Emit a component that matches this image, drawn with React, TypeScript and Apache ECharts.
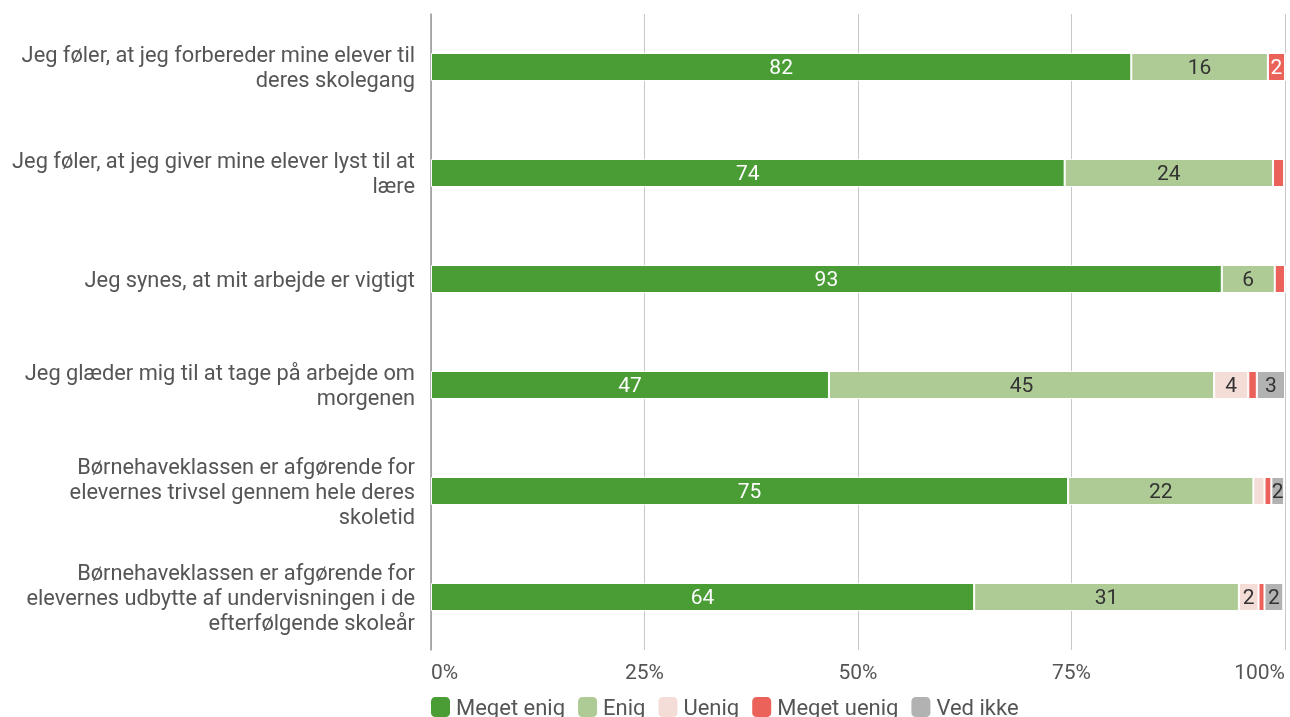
import React, { useEffect, useRef } from "react";
import * as echarts from "echarts";

const categories = [
  "Jeg føler, at jeg forbereder mine elever til\nderes skolegang",
  "Jeg føler, at jeg giver mine elever lyst til at\nlære",
  "Jeg synes, at mit arbejde er vigtigt",
  "Jeg glæder mig til at tage på arbejde om\nmorgenen",
  "Børnehaveklassen er afgørende for\nelevernes trivsel gennem hele deres\nskoletid",
  "Børnehaveklassen er afgørende for\nelevernes udbytte af undervisningen i de\nefterfølgende skoleår",
];

const megetEnig = [82, 74.2, 92.6, 46.6, 74.6, 63.6];
const enig = [16, 24.4, 6.2, 45.1, 21.7, 31];
const uenig = [0, 0, 0, 4, 1.3, 2.3];
const megetUenig = [2, 1.3, 1.2, 1, 0.8, 0.7];
const vedIkke = [0, 0, 0, 3.3, 1.5, 2.2];

const tickLabels = ["0%", "25%", "50%", "75%", "100%"];

const seriesDefs = [
  { name: "Meget enig", data: megetEnig, color: "#4a9d35", labelColor: "#ffffff" },
  { name: "Enig", data: enig, color: "#afcb95", labelColor: "#333333" },
  { name: "Uenig", data: uenig, color: "#f5ddd7", labelColor: "#333333" },
  { name: "Meget uenig", data: megetUenig, color: "#eb625a", labelColor: "#ffffff" },
  { name: "Ved ikke", data: vedIkke, color: "#b2b2b2", labelColor: "#333333" },
];

export default function App() {
  const ref = useRef<HTMLDivElement>(null);
  useEffect(() => {
    if (!ref.current) return;
    document.body.style.margin = "0";
    document.body.style.overflow = "hidden";
    const chart = echarts.init(ref.current, null, { renderer: "svg", width: 1290, height: 717 });
    chart.setOption({
      animation: false,
      textStyle: { fontFamily: "Roboto" },
      grid: { left: 431, right: 5, top: 14, bottom: 67, containLabel: false, outerBoundsMode: "none" },
      legend: {
        left: 429,
        top: 695,
        padding: 0,
        itemWidth: 21,
        itemHeight: 22,
        itemGap: 11,
        icon: "roundRect",
        textStyle: { fontSize: 22, color: "#555", fontFamily: "Roboto" },
        data: seriesDefs.map((s) => s.name),
      },
      xAxis: {
        type: "value",
        min: 0,
        max: 100,
        interval: 25,
        axisLine: { show: false },
        axisTick: { show: false },
        splitLine: { show: true, lineStyle: { color: "#c8c8c8", width: 1 } },
        axisLabel: {
          fontSize: 21,
          color: "#555",
          margin: 11,
          alignMinLabel: "left",
          alignMaxLabel: "right",
          formatter: (v: number) => tickLabels[Math.round(v / 25)],
        },
      },
      yAxis: {
        type: "category",
        inverse: true,
        data: categories,
        axisLine: { show: true, lineStyle: { color: "#999", width: 1.5 } },
        axisTick: { show: false },
        axisLabel: {
          fontSize: 21.8,
          color: "#555",
          margin: 16,
          lineHeight: 25,
          align: "right",
        },
      },
      series: seriesDefs.map((s) => ({
        name: s.name,
        type: "bar",
        stack: "total",
        barWidth: 28,
        data: s.data,
        itemStyle: { color: s.color, borderColor: "#ffffff", borderWidth: 1 },
        label: {
          show: true,
          position: "inside",
          color: s.labelColor,
          fontSize: 21,
          fontFamily: "Roboto",
          formatter: (p: any) => (p.value >= 1.4 ? String(Math.round(p.value)) : ""),
        },
      })),
    });
    return () => chart.dispose();
  }, []);
  return <div ref={ref} style={{ width: 1290, height: 717, position: "fixed", left: 0, top: 0 }} />;
}
